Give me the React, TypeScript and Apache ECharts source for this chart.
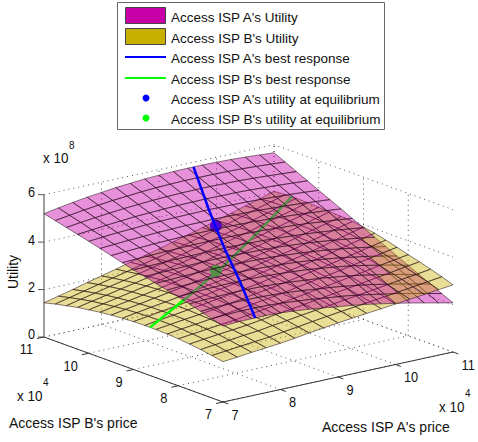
import React, { useEffect, useRef } from "react";
import * as echarts from "echarts";

// Surface samples: rows are B's price, columns are A's price (both x 10^4); heights are x 10^8
const priceSteps = [7, 7.25, 7.5, 7.75, 8, 8.25, 8.5, 8.75, 9, 9.25, 9.5, 9.75, 10, 10.25, 10.5, 10.75, 11];
const utilityA = [
  [3.20,3.24,3.25,3.25,3.23,3.18,3.12,3.05,2.96,2.89,2.80,2.69,2.58,2.46,2.33,2.20,2.07],
  [3.34,3.38,3.40,3.40,3.39,3.35,3.30,3.24,3.16,3.10,3.01,2.91,2.80,2.69,2.56,2.43,2.29],
  [3.48,3.52,3.54,3.55,3.54,3.52,3.48,3.43,3.36,3.30,3.22,3.13,3.03,2.91,2.79,2.66,2.52],
  [3.62,3.66,3.68,3.70,3.70,3.69,3.66,3.62,3.56,3.51,3.43,3.35,3.25,3.14,3.02,2.89,2.74],
  [3.75,3.79,3.82,3.84,3.85,3.85,3.83,3.80,3.76,3.71,3.64,3.56,3.47,3.36,3.24,3.11,2.97],
  [3.86,3.90,3.93,3.95,3.96,3.96,3.95,3.92,3.89,3.85,3.79,3.72,3.64,3.54,3.44,3.32,3.19],
  [3.97,4.00,4.03,4.05,4.06,4.07,4.06,4.04,4.02,3.98,3.93,3.87,3.81,3.72,3.63,3.53,3.42],
  [4.09,4.11,4.13,4.15,4.17,4.18,4.17,4.16,4.14,4.12,4.08,4.03,3.97,3.90,3.82,3.74,3.64],
  [4.20,4.22,4.24,4.26,4.27,4.28,4.28,4.28,4.27,4.25,4.22,4.18,4.14,4.08,4.02,3.95,3.87],
  [4.33,4.36,4.38,4.41,4.42,4.44,4.44,4.44,4.44,4.42,4.40,4.36,4.33,4.28,4.22,4.16,4.09],
  [4.46,4.50,4.53,4.56,4.58,4.60,4.61,4.61,4.61,4.60,4.58,4.55,4.52,4.48,4.43,4.38,4.32],
  [4.59,4.63,4.67,4.70,4.73,4.75,4.77,4.77,4.78,4.77,4.76,4.74,4.71,4.68,4.64,4.59,4.54],
  [4.72,4.77,4.82,4.85,4.89,4.91,4.93,4.94,4.95,4.95,4.94,4.93,4.91,4.88,4.85,4.81,4.76],
  [4.84,4.90,4.96,5.01,5.06,5.09,5.12,5.14,5.15,5.16,5.15,5.15,5.13,5.10,5.07,5.03,4.99],
  [4.96,5.04,5.11,5.17,5.23,5.27,5.31,5.34,5.36,5.37,5.37,5.36,5.35,5.32,5.29,5.25,5.21],
  [5.08,5.17,5.26,5.33,5.40,5.45,5.50,5.54,5.56,5.58,5.58,5.58,5.57,5.55,5.52,5.48,5.44],
  [5.20,5.31,5.41,5.50,5.57,5.64,5.69,5.74,5.77,5.79,5.80,5.80,5.79,5.77,5.74,5.70,5.66],
];
const utilityB = [
  [1.70,1.76,1.83,1.89,1.95,2.03,2.12,2.20,2.28,2.35,2.42,2.48,2.55,2.62,2.69,2.76,2.83],
  [1.79,1.85,1.92,1.98,2.04,2.13,2.21,2.30,2.38,2.46,2.53,2.61,2.68,2.76,2.84,2.92,3.00],
  [1.87,1.94,2.00,2.07,2.13,2.22,2.30,2.39,2.47,2.55,2.64,2.72,2.80,2.89,2.98,3.06,3.15],
  [1.93,2.00,2.07,2.13,2.20,2.29,2.38,2.46,2.55,2.64,2.73,2.82,2.91,3.01,3.10,3.20,3.29],
  [1.98,2.05,2.12,2.19,2.26,2.35,2.44,2.53,2.62,2.72,2.82,2.91,3.01,3.11,3.22,3.32,3.42],
  [2.01,2.09,2.16,2.24,2.31,2.40,2.49,2.58,2.67,2.78,2.89,2.99,3.10,3.22,3.33,3.45,3.56],
  [2.03,2.11,2.19,2.26,2.34,2.44,2.53,2.63,2.72,2.83,2.95,3.06,3.17,3.30,3.43,3.56,3.69],
  [2.03,2.12,2.20,2.29,2.37,2.47,2.57,2.66,2.76,2.88,3.00,3.12,3.24,3.38,3.53,3.67,3.81],
  [2.02,2.11,2.20,2.29,2.38,2.48,2.59,2.69,2.79,2.92,3.04,3.17,3.29,3.44,3.60,3.75,3.90],
  [1.99,2.09,2.19,2.28,2.38,2.49,2.60,2.70,2.81,2.94,3.08,3.21,3.34,3.50,3.65,3.81,3.96],
  [1.95,2.06,2.16,2.27,2.37,2.48,2.60,2.71,2.82,2.96,3.10,3.23,3.37,3.53,3.69,3.84,4.00],
  [1.90,2.01,2.12,2.23,2.34,2.46,2.58,2.70,2.82,2.96,3.11,3.25,3.39,3.55,3.71,3.87,4.03],
  [1.83,1.95,2.07,2.19,2.31,2.44,2.56,2.69,2.81,2.96,3.11,3.25,3.40,3.56,3.73,3.89,4.05],
  [1.76,1.89,2.01,2.14,2.26,2.39,2.53,2.66,2.79,2.94,3.10,3.25,3.40,3.57,3.74,3.90,4.07],
  [1.66,1.80,1.93,2.07,2.20,2.34,2.48,2.61,2.75,2.91,3.07,3.22,3.38,3.56,3.73,3.91,4.08],
  [1.56,1.70,1.84,1.99,2.13,2.27,2.42,2.56,2.71,2.87,3.03,3.20,3.36,3.54,3.72,3.89,4.07],
  [1.44,1.59,1.74,1.90,2.05,2.20,2.36,2.51,2.66,2.83,2.99,3.16,3.32,3.50,3.68,3.85,4.03],
];
// Best responses: [A's price, B's price, utility]
const bestResponseA = [[9.6,11,5.8],[9.09,10,4.95],[8.58,9,4.28],[8.07,8,3.85],[7.56,7,3.25]];
const bestResponseB = [[7,8.63,2.03],[8,9.12,2.38],[9,9.6,2.82],[10,10.1,3.4],[11,10.6,4.08]];
const equilibriumA = [[8.9,9.6,4.65]];
const equilibriumB = [[8.9,9.6,2.75]];

const priceTicks = [7, 8, 9, 10, 11];
const utilityTicks = [0, 2, 4, 6];
const legendLabels = [
  "Access ISP A's Utility",
  "Access ISP B's Utility",
  "Access ISP A's best response",
  "Access ISP B's best response",
  "Access ISP A's utility at equilibrium",
  "Access ISP B's utility at equilibrium",
];

const FONT = "'Liberation Sans', Arial, sans-serif";
const project = (a: number, b: number, z: number): [number, number] => [
  223 + 57.5 * (a - 7) - 44.75 * (b - 7),
  402 - 12.5 * (a - 7) - 16.25 * (b - 7) - 23.72 * z,
];

type P3 = number[];
type Cell = P3[];

function cellsOf(grid: number[][]): Cell[] {
  const out: Cell[] = [];
  for (let j = priceSteps.length - 2; j >= 0; j--) {
    for (let i = priceSteps.length - 2; i >= 0; i--) {
      out.push([
        [priceSteps[i], priceSteps[j], grid[j][i]],
        [priceSteps[i + 1], priceSteps[j], grid[j][i + 1]],
        [priceSteps[i + 1], priceSteps[j + 1], grid[j + 1][i + 1]],
        [priceSteps[i], priceSteps[j + 1], grid[j + 1][i]],
      ]);
    }
  }
  return out;
}

const mean = (c: Cell) => (c[0][2] + c[1][2] + c[2][2] + c[3][2]) / 4;

function cellSeries(name: string, cells: Cell[], fill: string) {
  return {
    type: "custom",
    name,
    coordinateSystem: "cartesian2d",
    clip: false,
    silent: true,
    data: cells.map((_, i) => [i, i]),
    renderItem: (params: any, api: any) => {
      const pts = cells[params.dataIndex].map((p) => api.coord(project(p[0], p[1], p[2])));
      return {
        type: "polygon",
        shape: { points: pts },
        style: { fill, stroke: "rgba(30,10,20,0.75)", lineWidth: 0.7 },
      };
    },
  };
}

function lineSeries(name: string, segs: P3[][], stroke: string, lineWidth: number, lineDash?: number[]) {
  return {
    type: "custom",
    name,
    coordinateSystem: "cartesian2d",
    clip: false,
    silent: true,
    data: segs.map((_, i) => [i, i]),
    renderItem: (params: any, api: any) => {
      const pts = segs[params.dataIndex].map((p) => api.coord(project(p[0], p[1], p[2])));
      return {
        type: "polyline",
        shape: { points: pts },
        style: { fill: "none", stroke, lineWidth, lineDash },
      };
    },
  };
}

function dotSeries(name: string, pts: P3[], fill: string) {
  return {
    type: "custom",
    name,
    coordinateSystem: "cartesian2d",
    clip: false,
    silent: true,
    data: pts.map((_, i) => [i, i]),
    renderItem: (params: any, api: any) => {
      const p = pts[params.dataIndex];
      const c = api.coord(project(p[0], p[1], p[2]));
      return { type: "circle", shape: { cx: c[0], cy: c[1], r: 6 }, style: { fill } };
    },
  };
}

const label = (text: string, x: number, y: number, size: number, align = "left", extra: any = {}) => ({
  type: "text",
  x,
  y,
  silent: true,
  ...extra,
  style: {
    text,
    fontFamily: FONT,
    fontSize: size,
    fill: "#111",
    align,
    textAlign: align,
    verticalAlign: "middle",
    textVerticalAlign: "middle",
  },
});

export default function App() {
  const ref = useRef<HTMLDivElement>(null);
  useEffect(() => {
    const chart = echarts.init(ref.current!, undefined, { renderer: "svg" });

    const cellsA = cellsOf(utilityA);
    const cellsB = cellsOf(utilityB);
    const zAt = (grid: number[][], c: Cell) => {
      const i = priceSteps.indexOf(c[0][0]);
      const j = priceSteps.indexOf(c[0][1]);
      return (grid[j][i] + grid[j][i + 1] + grid[j + 1][i + 1] + grid[j + 1][i]) / 4;
    };
    const under = cellsA.filter((c) => mean(c) < zAt(utilityB, c));
    const over = cellsA.filter((c) => mean(c) >= zAt(utilityB, c));

    const walls: P3[][] = [];
    for (const t of priceTicks) {
      walls.push([[t, 7, 0], [t, 11, 0]]);
      walls.push([[7, t, 0], [11, t, 0]]);
      if (t > 7) {
        walls.push([[t, 11, 0], [t, 11, 6]]);
        walls.push([[11, t, 0], [11, t, 6]]);
      }
    }
    for (const z of utilityTicks) {
      walls.push([[7, 11, z], [11, 11, z], [11, 7, z]]);
    }

    const axesDark: P3[][] = [
      [[7, 11, 0], [7, 7, 0], [11, 7, 0]],
      ...priceTicks.map((t) => [[t, 7, 0], [t, 6.88, 0]]),
      ...priceTicks.map((t) => [[7, t, 0], [6.88, t, 0]]),
    ];
    const axisZ: P3[][] = [[[7, 11, 0], [7, 11, 6]]];

    const tick = { scaleX: 0.85 };
    const graphics: any[] = [];
    utilityTicks.forEach((z) => {
      const [x, y] = project(7, 11, z);
      graphics.push({
        type: "line",
        silent: true,
        shape: { x1: x - 6, y1: y, x2: x, y2: y },
        style: { stroke: "#555", lineWidth: 1 },
      });
      graphics.push(label(String(z), x - 9, y - 3, 15, "right", tick));
    });
    priceTicks.forEach((t) => {
      const [bx, by] = project(7, t, 0);
      graphics.push(label(String(t), bx - 11, by + 12, 15, "right", tick));
      const [ax, ay] = project(t, 7, 0);
      graphics.push(label(String(t), ax + 8.5, ay + 12.5, 15, "left", tick));
    });
    graphics.push(label("x 10", 43, 158, 15, "left", { scaleX: 0.9 }));
    graphics.push(label("8", 69, 145, 10));
    graphics.push(label("x 10", 17, 396, 15, "left", { scaleX: 0.9 }));
    graphics.push(label("4", 43, 382, 10));
    graphics.push(label("x 10", 439, 407, 15, "left", { scaleX: 0.9 }));
    graphics.push(label("4", 465, 393, 10));
    graphics.push(label("Access ISP B's price", 9, 423, 14));
    graphics.push(label("Access ISP A's price", 322, 427, 14));
    graphics.push(label("Utility", 13, 272, 14, "center", { rotation: Math.PI / 2 }));

    // Legend
    graphics.push({
      type: "rect",
      silent: true,
      shape: { x: 117.5, y: 2.5, width: 267, height: 127 },
      style: { fill: "#fff", stroke: "#666", lineWidth: 1 },
    });
    const rowY = [17, 38, 58, 79, 99, 119];
    legendLabels.forEach((t, i) => graphics.push(label(t, 171, rowY[i], 13.5)));
    [["#c800a8", 0], ["#c8b000", 1]].forEach(([fill, i]: any) =>
      graphics.push({
        type: "rect",
        silent: true,
        shape: { x: 125.5, y: rowY[i] - 9.5, width: 40, height: 16 },
        style: { fill, stroke: "#444", lineWidth: 1 },
      })
    );
    [["#0000ff", 2], ["#00ff00", 3]].forEach(([stroke, i]: any) =>
      graphics.push({
        type: "line",
        silent: true,
        shape: { x1: 125, y1: rowY[i] - 1, x2: 166, y2: rowY[i] - 1 },
        style: { stroke, lineWidth: 2 },
      })
    );
    [["#0000ff", 4], ["#00ff00", 5]].forEach(([fill, i]: any) =>
      graphics.push({
        type: "circle",
        silent: true,
        shape: { cx: 146, cy: rowY[i] - 1, r: 3.5 },
        style: { fill },
      })
    );

    const MAGENTA = "rgba(200,0,170,0.43)";
    const YELLOW = "rgba(200,175,0,0.41)";

    chart.setOption({
      animation: false,
      backgroundColor: "#fff",
      grid: { left: 0, right: 0, top: 0, bottom: 0 },
      xAxis: { type: "value", min: 0, max: 478, show: false },
      yAxis: { type: "value", min: 0, max: 442, inverse: true, show: false },
      graphic: graphics,
      series: [
        lineSeries("Grid", walls, "#555", 1, [1, 4]),
        lineSeries("Axes", axesDark, "#333", 1),
        lineSeries("Utility axis", axisZ, "#808080", 1.5),
        cellSeries("Access ISP A's Utility (below)", under, MAGENTA),
        cellSeries("Access ISP B's Utility", cellsB, YELLOW),
        lineSeries("Access ISP B's best response", [bestResponseB], "#00ff00", 2.5),
        dotSeries("Access ISP B's utility at equilibrium", equilibriumB, "#00ff00"),
        dotSeries("Access ISP A's utility at equilibrium", equilibriumA, "#0000ff"),
        cellSeries("Access ISP A's Utility", over, MAGENTA),
        lineSeries("Access ISP A's best response", [bestResponseA], "#0000ff", 2.5),
      ],
    });
    return () => chart.dispose();
  }, []);
  return <div ref={ref} style={{ position: "absolute", left: 0, top: 0, width: 478, height: 442 }} />;
}
